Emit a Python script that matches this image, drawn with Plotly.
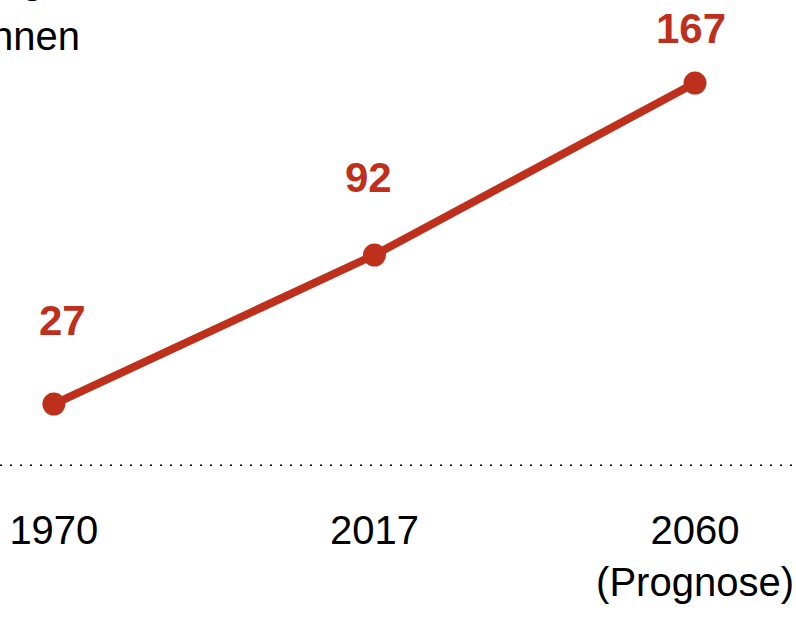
import plotly.graph_objects as go

years = ["1970", "2017", "2060<br>(Prognose)"]
values = [27, 92, 167]
label_text = ["27", "92", "167"]

RED = "#BF301C"
FONT = "Liberation Sans Narrow, Arial Narrow, Liberation Sans, Arial, sans-serif"

x = list(range(len(years)))

fig = go.Figure()
fig.add_trace(go.Scatter(
    x=x, y=values, mode="lines+markers",
    line=dict(color=RED, width=8),
    marker=dict(color=RED, size=23),
    hoverinfo="skip", showlegend=False,
))

label_shift = [84, 78, 55]
label_dx = [9, -6, -4]
for xi, v, t, dy, dx in zip(x, values, label_text, label_shift, label_dx):
    fig.add_annotation(x=xi, y=v, text=t, showarrow=False, yshift=dy, xshift=dx,
                       font=dict(family=FONT, size=42, color=RED, weight="bold"))

# Partially visible axis title at the top-left
fig.add_annotation(xref="paper", yref="paper", x=46/796, y=1.045, xanchor="right", yanchor="middle",
                   text="Jährliche Rohstoffnutzung", showarrow=False,
                   font=dict(family=FONT, size=40, color="black"))
fig.add_annotation(xref="paper", yref="paper", x=82/796, y=(466-36)/466, xanchor="right", yanchor="middle",
                   text="in Milliarden Tonnen", showarrow=False,
                   font=dict(family=FONT, size=40, color="black"))

# dotted baseline
fig.add_shape(type="line", xref="paper", yref="y", x0=0, x1=1, y0=0, y1=0,
              line=dict(color="black", width=3, dash="2px,8px"))

fig.update_layout(
    width=796, height=618,
    margin=dict(l=0, r=0, t=0, b=152),
    paper_bgcolor="white", plot_bgcolor="white",
    xaxis=dict(range=[-0.168, 2.315], tickvals=x, ticktext=years, showgrid=False,
               zeroline=False, showline=False, ticks="", ticklabeloverflow="allow",
               ticklabelstandoff=37,
               tickfont=dict(family=FONT, size=40, color="black")),
    yaxis=dict(range=[0, 203.2], visible=False),
)

fig.write_html("out.html", config={"displayModeBar": False},
               post_script="document.body.style.margin='0';document.body.style.overflow='hidden';")
